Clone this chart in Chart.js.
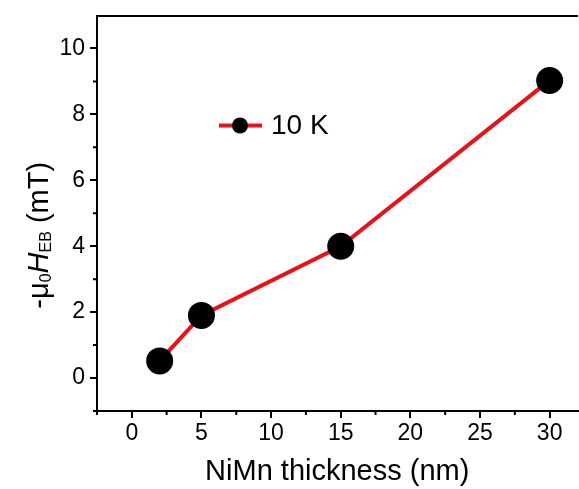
<!DOCTYPE html>
<html>
<head>
<meta charset="utf-8">
<script src="https://cdn.jsdelivr.net/npm/chart.js@4/dist/chart.umd.min.js"></script>
<style>
  html, body { margin: 0; padding: 0; background: #fff; overflow: hidden; }
  #wrap { width: 579px; height: 489px; overflow: hidden; }
  canvas { display: block; }
</style>
</head>
<body>
<div id="wrap"><canvas id="myChart" width="593" height="489"></canvas></div>
<script>
// data
const thickness = [2, 5, 15, 30];
const hEB = [0.52, 1.9, 4.0, 9.03];
const seriesLabel = '10 K';

const xTicks = [0, 5, 10, 15, 20, 25, 30];
const xMinor = [-2.5, 2.5, 7.5, 12.5, 17.5, 22.5, 27.5];
const yTicks = [0, 2, 4, 6, 8, 10];
const yMinor = [-1, 1, 3, 5, 7, 9];

const FONT = "'Liberation Sans', Arial, sans-serif";
const RED = '#e8121a';

function noPad(s) {
  s.paddingLeft = 0; s.paddingRight = 0; s.paddingTop = 0; s.paddingBottom = 0;
}

// short minor ticks on both axes
const minorTicks = {
  id: 'minorTicks',
  afterDraw(chart) {
    const ctx = chart.ctx, x = chart.scales.x, y = chart.scales.y;
    const area = chart.chartArea;
    ctx.save();
    ctx.strokeStyle = '#000';
    ctx.lineWidth = 2;
    ctx.beginPath();
    xMinor.forEach(v => {
      const px = x.getPixelForValue(v);
      ctx.moveTo(px, area.bottom);
      ctx.lineTo(px, area.bottom + 4);
    });
    yMinor.forEach(v => {
      const py = y.getPixelForValue(v);
      ctx.moveTo(area.left, py);
      ctx.lineTo(area.left - 4, py);
    });
    ctx.stroke();
    ctx.restore();
  }
};

// y axis title with subscripts and italic H
const yTitle = {
  id: 'yTitle',
  afterDraw(chart) {
    const ctx = chart.ctx;
    const parts = [
      { t: '-\u03bc', f: '29px ' + FONT, dy: 0 },
      { t: '0', f: '16px ' + FONT, dy: 3 },
      { t: 'H', f: 'italic 29px ' + FONT, dy: 0 },
      { t: 'EB', f: '16px ' + FONT, dy: 3 },
      { t: ' (mT)', f: '29px ' + FONT, dy: 0 }
    ];
    let total = 0;
    parts.forEach(p => { ctx.font = p.f; p.w = ctx.measureText(p.t).width; total += p.w; });
    const area = chart.chartArea;
    ctx.save();
    ctx.translate(48, (area.top + area.bottom) / 2 + 22);
    ctx.rotate(-Math.PI / 2);
    ctx.fillStyle = '#000';
    ctx.textBaseline = 'alphabetic';
    ctx.textAlign = 'left';
    let cx = -total / 2;
    parts.forEach(p => {
      ctx.font = p.f;
      ctx.fillText(p.t, cx, p.dy);
      cx += p.w;
    });
    ctx.restore();
  }
};

// legend drawn inside the plot
const innerLegend = {
  id: 'innerLegend',
  afterDraw(chart) {
    const ctx = chart.ctx, area = chart.chartArea;
    const ds = chart.data.datasets[0];
    const cx = area.left + 143, cy = area.top + 110;
    ctx.save();
    ctx.strokeStyle = ds.borderColor;
    ctx.lineWidth = 4;
    ctx.beginPath();
    ctx.moveTo(cx - 21, cy);
    ctx.lineTo(cx + 22, cy);
    ctx.stroke();
    ctx.fillStyle = '#000';
    ctx.beginPath();
    ctx.arc(cx, cy, 8, 0, Math.PI * 2);
    ctx.fill();
    ctx.font = '28px ' + FONT;
    ctx.textBaseline = 'middle';
    ctx.fillText(ds.label, cx + 31, cy + 1);
    ctx.restore();
  }
};

new Chart('myChart', {
  type: 'line',
  data: {
    datasets: [{
      label: seriesLabel,
      data: thickness.map((t, i) => ({ x: t, y: hEB[i] })),
      borderColor: RED,
      borderWidth: 4,
      backgroundColor: '#000',
      pointBackgroundColor: '#000',
      pointBorderColor: '#000',
      pointRadius: 11.5,
      pointHoverRadius: 11.5,
      tension: 0
    }]
  },
  options: {
    responsive: false,
    animation: false,
    layout: { padding: { top: 14, right: 0, left: 0, bottom: 0 } },
    plugins: { legend: { display: false }, tooltip: { enabled: false } },
    scales: {
      x: {
        type: 'linear',
        position: 'bottom',
        min: -2.5,
        max: 32,
        afterBuildTicks: s => { s.ticks = xTicks.map(v => ({ value: v })); },
        afterFit: s => { s.height = 78; noPad(s); },
        ticks: { color: '#000', font: { family: FONT, size: 23 }, padding: 2, autoSkip: false, maxRotation: 0 },
        grid: { drawOnChartArea: false, color: '#000', tickLength: 7, lineWidth: 2 },
        border: { color: '#000', width: 2 },
        title: { display: true, text: 'NiMn thickness (nm)', color: '#000', font: { family: FONT, size: 29 }, padding: { top: 0, bottom: 0 } }
      },
      x2: {
        type: 'linear',
        position: 'top',
        min: -2.5,
        max: 32,
        afterFit: s => { s.height = 0; noPad(s); },
        ticks: { display: false },
        grid: { display: false },
        border: { display: true, color: '#000', width: 2 }
      },
      y: {
        min: -1,
        max: 11,
        afterBuildTicks: s => { s.ticks = yTicks.map(v => ({ value: v })); },
        afterFit: s => { s.width = 97; noPad(s); },
        ticks: { color: '#000', font: { family: FONT, size: 23 }, padding: 5, autoSkip: false },
        grid: { drawOnChartArea: false, color: '#000', tickLength: 7, lineWidth: 2 },
        border: { color: '#000', width: 2 }
      }
    }
  },
  plugins: [minorTicks, yTitle, innerLegend]
});
</script>
</body>
</html>
